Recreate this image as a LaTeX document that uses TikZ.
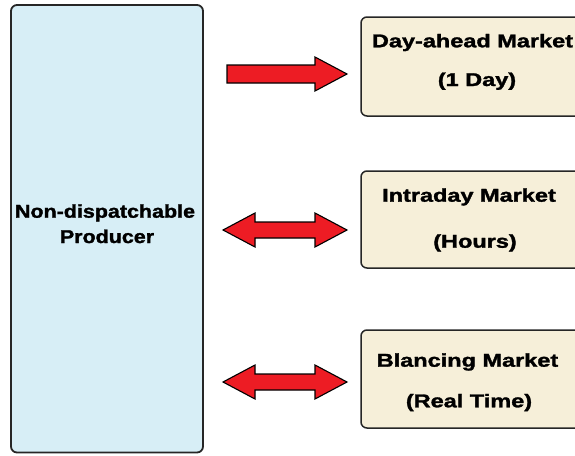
\documentclass[tikz,border=0pt]{standalone}
\usepackage{fontspec}
\setmainfont{Liberation Sans}[BoldFeatures={FakeBold=1.5}]
\usepackage{graphicx}
\definecolor{prodfill}{RGB}{215,238,246}
\definecolor{mktfill}{RGB}{246,239,217}
\definecolor{arrowred}{RGB}{237,28,36}
\newcommand{\lwide}[1]{\scalebox{1.16}[1]{#1}}
\newcommand{\rwide}[1]{\scalebox{1.27}[1]{#1}}
\begin{document}
\begin{tikzpicture}[x=1pt,y=-1pt,
  prodbox/.style={draw=black!85,line width=1.8pt,fill=prodfill,rounded corners=6pt},
  mktbox/.style={draw=black!85,line width=1.5pt,fill=mktfill,rounded corners=6pt},
  blockarrow/.style={draw=black,line width=1.1pt,fill=arrowred,line join=miter},
  lbl/.style={font=\fontsize{18.5}{20}\selectfont\bfseries,inner sep=0pt,anchor=base}]
\useasboundingbox (0,0) rectangle (575,455);
\clip (0,0) rectangle (575,455);
\fill[white] (0,0) rectangle (575,455);

% producer block
\draw[prodbox] (11,5) rectangle (203,452.5);
\node[lbl] (prod1) at (105,217.7) {\lwide{Non-dispatchable}};
\node[lbl] (prod2) at (107,243) {\lwide{Producer}};

% market blocks (running off the right edge)
\draw[mktbox] (361,17) rectangle (620,116);
\node[lbl] (da1) at (472.5,47.3) {\rwide{Day-ahead Market}};
\node[lbl] (da2) at (477,86) {\rwide{(1 Day)}};

\draw[mktbox] (361,171) rectangle (620,268);
\node[lbl] (id1) at (469,201.7) {\rwide{Intraday Market}};
\node[lbl] (id2) at (475,247.7) {\rwide{(Hours)}};

\draw[mktbox] (361,330) rectangle (620,428);
\node[lbl] (bm1) at (467.5,366.7) {\rwide{Blancing Market}};
\node[lbl] (bm2) at (469,407.3) {\rwide{(Real Time)}};

% one-way arrow to the day-ahead market
\draw[blockarrow] (227,65) -- (315,65) -- (315,57) -- (347,74) -- (315,91)
  -- (315,83) -- (227,83) -- cycle;

% two-way arrows to the intraday and balancing markets
\foreach \cy in {230,382} {
  \draw[blockarrow] (223,\cy) -- (255,\cy-17) -- (255,\cy-8) -- (315,\cy-8)
    -- (315,\cy-17) -- (347,\cy) -- (315,\cy+17) -- (315,\cy+8)
    -- (255,\cy+8) -- (255,\cy+17) -- cycle;
}
\end{tikzpicture}
\end{document}
